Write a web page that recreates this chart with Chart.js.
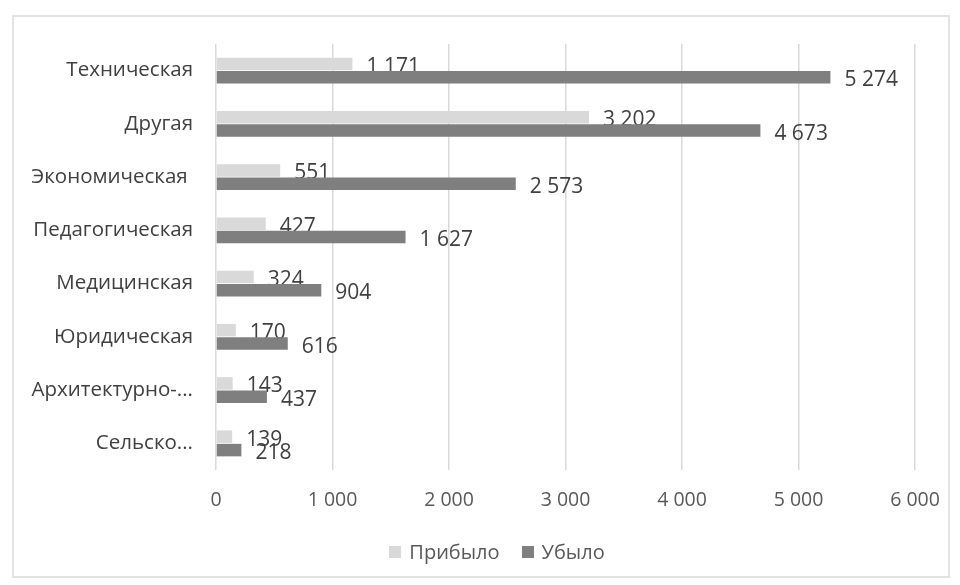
<!DOCTYPE html>
<html>
<head>
<meta charset="utf-8">
<script src="https://cdn.jsdelivr.net/npm/chart.js@4"></script>
<style>
  body { margin: 0; background: #fff; }
  #wrap { position: relative; width: 960px; height: 585px; }
  #frame { position: absolute; left: 12px; top: 15px; width: 934px; height: 559px; border: 2px solid #e3e3e3; }
  #legend { position: absolute; left: 0; width: 994px; top: 538px; display: flex; justify-content: center;
            font: 20px "Open Sans", sans-serif; color: #595959; }
  #legend span.item { display: flex; align-items: center; margin: 0 11px; }
  #legend span.box { width: 12px; height: 12px; margin-right: 8px; }
</style>
</head>
<body>
<div id="wrap">
  <div id="frame"></div>
  <canvas id="chart" width="960" height="585"></canvas>
  <div id="legend"></div>
</div>
<script>
const categories = ["Техническая", "Другая", "Экономическая ", "Педагогическая", "Медицинская", "Юридическая", "Архитектурно-...", "Сельско..."];
const arrived = [1171, 3202, 551, 427, 324, 170, 143, 139];
const left = [5274, 4673, 2573, 1627, 904, 616, 437, 218];
const xTicks = [0, 1000, 2000, 3000, 4000, 5000, 6000];

const FONT = '"Open Sans", sans-serif';
const fmt = v => String(v).replace(/\B(?=(\d{3})+(?!\d))/g, " ");

// value labels: light series before bars (dark bar covers it a bit), dark series after
function drawLabels(chart, idx) {
  const ctx = chart.ctx;
  const meta = chart.getDatasetMeta(idx);
  const data = chart.data.datasets[idx].data;
  ctx.save();
  ctx.font = "21px " + FONT;
  ctx.fillStyle = "#404040";
  ctx.textAlign = "left";
  ctx.textBaseline = "middle";
  meta.data.forEach((bar, i) => {
    ctx.fillText(fmt(data[i]), bar.x + 14, bar.y + 3);
  });
  ctx.restore();
}

const labelPlugin = {
  id: "valueLabels",
  beforeDatasetsDraw(chart) { drawLabels(chart, 0); },
  afterDatasetsDraw(chart) { drawLabels(chart, 1); }
};

const chart = new Chart(document.getElementById("chart"), {
  type: "bar",
  data: {
    labels: categories,
    datasets: [
      { label: "Прибыло", data: arrived, backgroundColor: "#d9d9d9", categoryPercentage: 0.505, barPercentage: 0.93 },
      { label: "Убыло", data: left, backgroundColor: "#7f7f7f", categoryPercentage: 0.505, barPercentage: 0.93 }
    ]
  },
  options: {
    indexAxis: "y",
    responsive: false,
    animation: false,
    layout: { padding: { left: 0, right: 45, top: 44, bottom: 0 } },
    plugins: { legend: { display: false }, tooltip: { enabled: false } },
    scales: {
      x: {
        min: 0, max: 6000,
        afterBuildTicks: s => { s.ticks = xTicks.map(v => ({ value: v })); },
        afterFit: s => { s.height = 115; },
        grid: { color: "#d9d9d9", lineWidth: 1.5, drawTicks: false },
        border: { display: false },
        ticks: { padding: 19, color: "#595959", font: { family: FONT, size: 19.5 }, callback: v => fmt(v) }
      },
      y: {
        afterFit: s => { s.width = 216; },
        grid: { display: false, drawTicks: false },
        border: { display: false },
        ticks: { padding: 23, color: "#404040", font: { family: FONT, size: 20.5 } }
      }
    }
  },
  plugins: [labelPlugin]
});

// legend below the plot
const legend = document.getElementById("legend");
chart.data.datasets.forEach(ds => {
  const item = document.createElement("span");
  item.className = "item";
  item.innerHTML = '<span class="box" style="background:' + ds.backgroundColor + '"></span>' + ds.label;
  legend.appendChild(item);
});
</script>
</body>
</html>
